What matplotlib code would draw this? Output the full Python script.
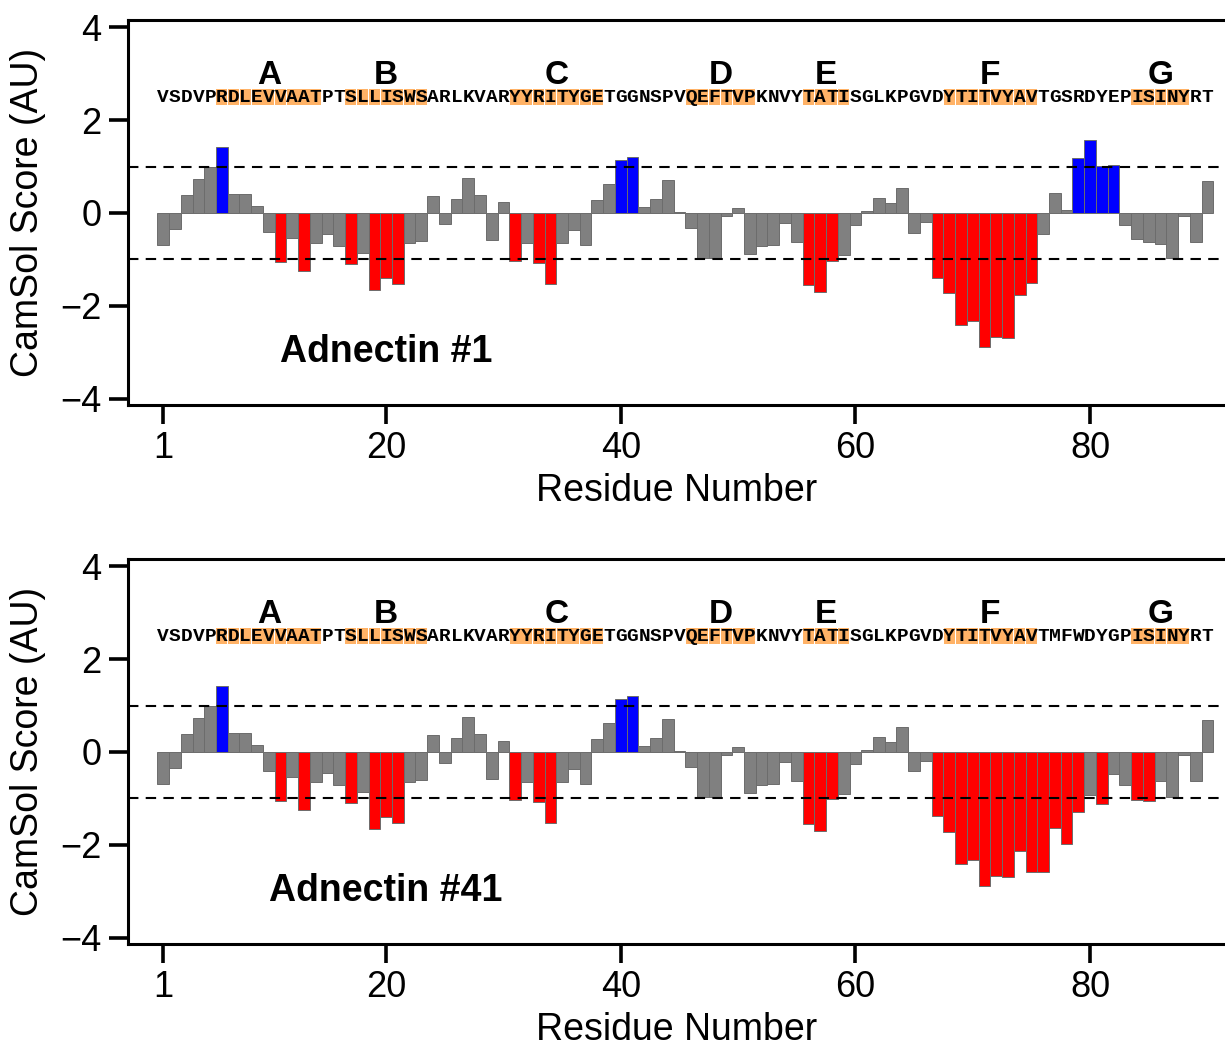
import numpy as np
import matplotlib
matplotlib.use('Agg')
import matplotlib.pyplot as plt

plt.rcParams['font.family'] = ['Liberation Sans', 'DejaVu Sans']

residues = np.arange(1, 91)

seq_1 = 'VSDVPRDLEVVAATPTSLLISWSARLKVARYYRITYGETGGNSPVQEFTVPKNVYTATISGLKPGVDYTITVYAVTGSRDYEPISINYRT'
seq_41 = 'VSDVPRDLEVVAATPTSLLISWSARLKVARYYRITYGETGGNSPVQEFTVPKNVYTATISGLKPGVDYTITVYAVTMFWDYGPISINYRT'

strand_names = ['A', 'B', 'C', 'D', 'E', 'F', 'G']
strand_start = [6, 17, 31, 46, 56, 68, 84]
strand_end = [14, 23, 38, 51, 59, 75, 88]

score_1 = [-0.69, -0.34, 0.38, 0.74, 0.99, 1.43, 0.41, 0.41, 0.14, -0.41,
           -1.06, -0.55, -1.26, -0.65, -0.45, -0.72, -1.10, -0.86, -1.65, -1.40,
           -1.53, -0.65, -0.61, 0.36, -0.24, 0.30, 0.76, 0.39, -0.59, 0.24,
           -1.03, -0.65, -1.08, -1.53, -0.65, -0.37, -0.70, 0.27, 0.62, 1.15,
           1.21, 0.13, 0.31, 0.72, 0.02, -0.32, -0.97, -0.98, -0.06, 0.11,
           -0.89, -0.71, -0.70, -0.22, -0.62, -1.56, -1.70, -1.03, -0.90, -0.27,
           0.04, 0.32, 0.21, 0.54, -0.43, -0.20, -1.40, -1.73, -2.41, -2.33,
           -2.90, -2.68, -2.70, -1.76, -1.52, -0.46, 0.43, 0.06, 1.18, 1.57,
           1.02, 1.03, -0.26, -0.57, -0.62, -0.67, -0.98, -0.06, -0.62, 0.69]

score_41 = [-0.69, -0.34, 0.38, 0.74, 0.99, 1.43, 0.41, 0.41, 0.14, -0.41,
            -1.06, -0.55, -1.26, -0.65, -0.45, -0.72, -1.10, -0.86, -1.65, -1.40,
            -1.53, -0.65, -0.61, 0.36, -0.24, 0.30, 0.76, 0.39, -0.59, 0.24,
            -1.03, -0.65, -1.08, -1.53, -0.65, -0.37, -0.70, 0.27, 0.62, 1.15,
            1.21, 0.13, 0.31, 0.72, 0.02, -0.32, -0.97, -0.98, -0.06, 0.11,
            -0.89, -0.71, -0.70, -0.22, -0.62, -1.56, -1.70, -1.02, -0.90, -0.26,
            0.04, 0.32, 0.21, 0.54, -0.42, -0.19, -1.39, -1.73, -2.41, -2.33,
            -2.90, -2.68, -2.70, -2.14, -2.58, -2.59, -1.63, -1.98, -1.30, -0.93,
            -1.13, -0.47, -0.72, -1.04, -1.05, -0.62, -0.97, -0.06, -0.62, 0.69]

x_ticks = [1, 20, 40, 60, 80]
y_ticks = [-4, -2, 0, 2, 4]


def draw_panel(ax, score, seq, name):
    cols = []
    for v in score:
        if v > 1:
            cols.append('#0000ff')
        elif v < -1:
            cols.append('#ff0000')
        else:
            cols.append('#808080')
    ax.bar(residues, score, width=1.0, color=cols, edgecolor='#6c6c6c', linewidth=0.7, zorder=2)
    for h in (1, -1):
        ax.axhline(h, color='black', lw=1.5, ls=(0, (5, 3.5)), zorder=3)

    # strands: orange highlight behind the letters, label above
    for s, e, lab in zip(strand_start, strand_end, strand_names):
        idx = np.arange(s, e + 1)
        ax.bar(idx, 0.34, bottom=2.33, width=0.94, color='#ffb266', linewidth=0, zorder=1)
        ax.text((s + e) / 2, 2.78, lab, ha='center', va='baseline',
                fontsize=24, fontweight='bold')
    for i, ch in enumerate(seq):
        ax.text(residues[i], 2.39, ch, ha='center', va='baseline', family='Liberation Mono',
                fontsize=14, fontweight='bold', zorder=4)

    ax.text(20, -3.0, name, ha='center', va='center', fontsize=27, fontweight='bold')

    ax.set_xlim(-2, 91.5)
    ax.set_ylim(-4.14, 4.16)
    ax.set_xticks(x_ticks)
    ax.set_yticks(y_ticks)
    ax.spines['right'].set_visible(False)
    for sp in ('left', 'top', 'bottom'):
        ax.spines[sp].set_linewidth(2.2)
    ax.tick_params(direction='out', length=14, width=2.6, labelsize=26, pad=5)
    ax.set_xlabel('Residue Number', fontsize=27, labelpad=5)
    ax.set_ylabel('CamSol Score (AU)', fontsize=27, labelpad=10)


fig = plt.figure(figsize=(12.25, 10.46), dpi=100)
ax1 = fig.add_axes([0.1045, 0.6128, 0.8955, 0.3681])
ax2 = fig.add_axes([0.1045, 0.0975, 0.8955, 0.3681])

draw_panel(ax1, score_1, seq_1, 'Adnectin #1')
draw_panel(ax2, score_41, seq_41, 'Adnectin #41')

fig.savefig('out.png', dpi=100)
